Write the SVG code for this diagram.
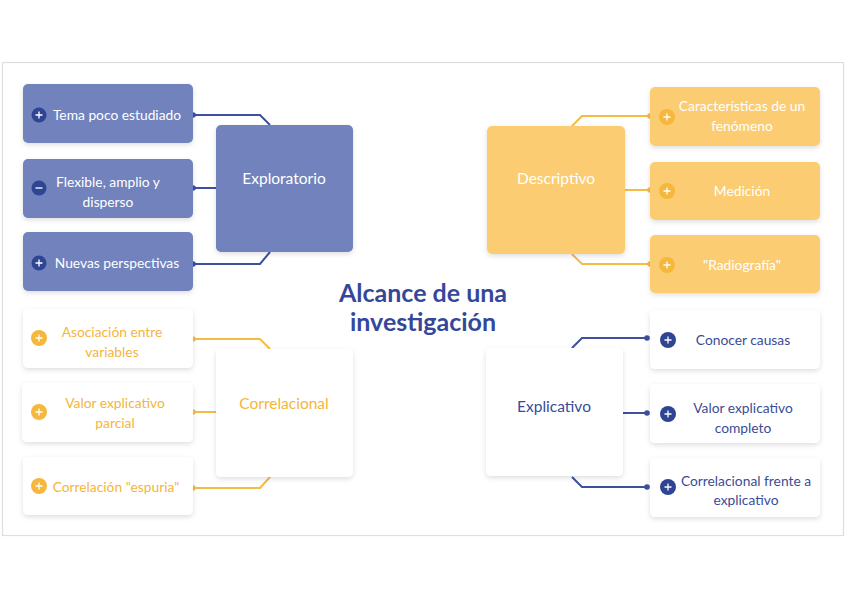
<svg xmlns="http://www.w3.org/2000/svg" width="848" height="599" viewBox="0 0 848 599">
<defs>
<filter id="sh" x="-20%" y="-20%" width="140%" height="150%">
<feDropShadow dx="0" dy="2" stdDeviation="2.5" flood-color="#000" flood-opacity="0.13"/>
</filter>
</defs>
<style>
text{font-family:Lato,"Noto Sans","Liberation Sans",sans-serif;text-anchor:middle}
.leaf{font-size:13.8px}
.main{font-size:15.5px}
.blue{fill:#7282bd}
.yel{fill:#fbcc72}
.white{fill:#ffffff}
.tw{fill:#ffffff}
.ty{fill:#f4b53a}
.tb{fill:#3a4c96}
.cb{stroke:#3d4f9f;stroke-width:2;fill:none}
.cy{stroke:#f6bb45;stroke-width:2;fill:none}
.db{fill:#3d4f9f}
.dy{fill:#f6bb45}
.ib{fill:#2f4593}
.iy{fill:#f5b73c}
.plus{stroke:#ffffff;stroke-width:1.3;fill:none}
</style>
<rect width="848" height="599" fill="#ffffff"/>
<rect x="2.5" y="62.5" width="841" height="473" fill="#ffffff" stroke="#dedede" stroke-width="1.2"/>

<g id="connectors">
<path class="cb" d="M193 115 H260 L270 125"/>
<path class="cb" d="M193 188 H216"/>
<path class="cb" d="M193 264 H260 L270 252"/>
<circle class="db" cx="193" cy="115" r="2.8"/>
<circle class="db" cx="193" cy="188" r="2.8"/>
<circle class="db" cx="193" cy="264" r="2.8"/>

<path class="cy" d="M572 126 L582 116 H650"/>
<path class="cy" d="M625 190 H650"/>
<path class="cy" d="M572 254 L582 264 H650"/>
<circle class="dy" cx="650" cy="116" r="2.8"/>
<circle class="dy" cx="650" cy="190" r="2.8"/>
<circle class="dy" cx="650" cy="264" r="2.8"/>

<path class="cy" d="M193 339 H260 L270 349"/>
<path class="cy" d="M193 412 H216"/>
<path class="cy" d="M193 488 H260 L270 477"/>
<circle class="dy" cx="193" cy="339" r="2.8"/>
<circle class="dy" cx="193" cy="412" r="2.8"/>
<circle class="dy" cx="193" cy="488" r="2.8"/>

<path class="cb" d="M572 348 L582 338 H647"/>
<path class="cb" d="M623 413 H647"/>
<path class="cb" d="M572 477 L582 487 H647"/>
<circle class="db" cx="647" cy="338" r="2.8"/>
<circle class="db" cx="647" cy="413" r="2.8"/>
<circle class="db" cx="647" cy="487" r="2.8"/>
</g>

<g id="title">
<text x="423" y="302" font-size="25" font-weight="bold" fill="#34489a">Alcance de una</text>
<text x="423" y="331" font-size="25" font-weight="bold" fill="#34489a">investigación</text>
</g>

<g id="exploratorio">
<rect class="blue" x="216" y="125" width="137" height="127" rx="5" filter="url(#sh)"/>
<text class="main tw" x="284" y="184">Exploratorio</text>
</g>
<g id="exp-1">
<rect class="blue" x="23" y="84" width="170" height="59" rx="5" filter="url(#sh)"/>
<circle class="ib" cx="39" cy="115" r="7.5"/><path class="plus" d="M35.5 115H42.5M39 111.5V118.5"/>
<text class="leaf tw" x="117" y="120">Tema poco estudiado</text>
</g>
<g id="exp-2">
<rect class="blue" x="23" y="159" width="170" height="59" rx="5" filter="url(#sh)"/>
<circle class="ib" cx="39" cy="188" r="7.5"/><path class="plus" d="M35.5 188H42.5"/>
<text class="leaf tw" x="108" y="187">Flexible, amplio y</text>
<text class="leaf tw" x="108" y="207">disperso</text>
</g>
<g id="exp-3">
<rect class="blue" x="23" y="232" width="170" height="59" rx="5" filter="url(#sh)"/>
<circle class="ib" cx="39" cy="263" r="7.5"/><path class="plus" d="M35.5 263H42.5M39 259.5V266.5"/>
<text class="leaf tw" x="117" y="268">Nuevas perspectivas</text>
</g>

<g id="descriptivo">
<rect class="yel" x="487" y="126" width="138" height="128" rx="5" filter="url(#sh)"/>
<text class="main tw" x="556" y="184">Descriptivo</text>
</g>
<g id="des-1">
<rect class="yel" x="650" y="87" width="170" height="59" rx="5" filter="url(#sh)"/>
<circle class="iy" cx="667" cy="117" r="8"/><path class="plus" d="M663.5 117H670.5M667 113.5V120.5"/>
<text class="leaf tw" x="742" y="111">Características de un</text>
<text class="leaf tw" x="742" y="131">fenómeno</text>
</g>
<g id="des-2">
<rect class="yel" x="650" y="162" width="170" height="58" rx="5" filter="url(#sh)"/>
<circle class="iy" cx="667" cy="191" r="8"/><path class="plus" d="M663.5 191H670.5M667 187.5V194.5"/>
<text class="leaf tw" x="742" y="196">Medición</text>
</g>
<g id="des-3">
<rect class="yel" x="650" y="235" width="170" height="58" rx="5" filter="url(#sh)"/>
<circle class="iy" cx="667" cy="265" r="8"/><path class="plus" d="M663.5 265H670.5M667 261.5V268.5"/>
<text class="leaf tw" x="742" y="270">"Radiografía"</text>
</g>

<g id="correlacional">
<rect class="white" x="216" y="349" width="137" height="128" rx="5" filter="url(#sh)"/>
<text class="main ty" x="284" y="409">Correlacional</text>
</g>
<g id="cor-1">
<rect class="white" x="23" y="309" width="170" height="59" rx="5" filter="url(#sh)"/>
<circle class="iy" cx="39" cy="338" r="8"/><path class="plus" d="M35.5 338H42.5M39 334.5V341.5"/>
<text class="leaf ty" x="112" y="337">Asociación entre</text>
<text class="leaf ty" x="112" y="357">variables</text>
</g>
<g id="cor-2">
<rect class="white" x="22" y="383" width="171" height="59" rx="5" filter="url(#sh)"/>
<circle class="iy" cx="39" cy="412" r="8"/><path class="plus" d="M35.5 412H42.5M39 408.5V415.5"/>
<text class="leaf ty" x="115" y="408">Valor explicativo</text>
<text class="leaf ty" x="115" y="428">parcial</text>
</g>
<g id="cor-3">
<rect class="white" x="23" y="457" width="170" height="58" rx="5" filter="url(#sh)"/>
<circle class="iy" cx="39" cy="486" r="8"/><path class="plus" d="M35.5 486H42.5M39 482.5V489.5"/>
<text class="leaf ty" x="116" y="492">Correlación "espuria"</text>
</g>

<g id="explicativo">
<rect class="white" x="486" y="348" width="137" height="128" rx="5" filter="url(#sh)"/>
<text class="main tb" x="554" y="412">Explicativo</text>
</g>
<g id="ex-1">
<rect class="white" x="650" y="310" width="170" height="59" rx="5" filter="url(#sh)"/>
<circle class="ib" cx="668" cy="340" r="8"/><path class="plus" d="M664.5 340H671.5M668 336.5V343.5"/>
<text class="leaf tb" x="743" y="345">Conocer causas</text>
</g>
<g id="ex-2">
<rect class="white" x="650" y="384" width="170" height="59" rx="5" filter="url(#sh)"/>
<circle class="ib" cx="668" cy="414" r="8"/><path class="plus" d="M664.5 414H671.5M668 410.5V417.5"/>
<text class="leaf tb" x="743" y="413">Valor explicativo</text>
<text class="leaf tb" x="743" y="433">completo</text>
</g>
<g id="ex-3">
<rect class="white" x="650" y="458" width="170" height="59" rx="5" filter="url(#sh)"/>
<circle class="ib" cx="668" cy="487" r="8"/><path class="plus" d="M664.5 487H671.5M668 483.5V490.5"/>
<text class="leaf tb" x="746" y="486">Correlacional frente a</text>
<text class="leaf tb" x="746" y="505">explicativo</text>
</g>
</svg>
